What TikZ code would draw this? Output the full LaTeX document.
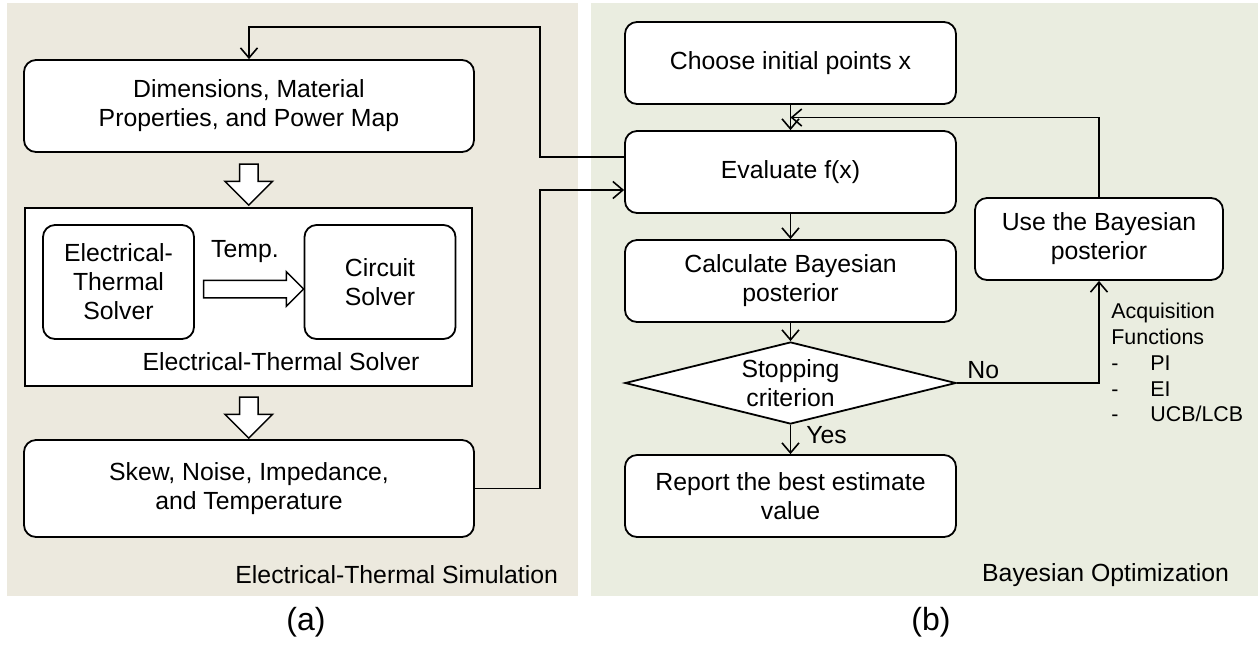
\documentclass[tikz,border=0pt]{standalone}
\usepackage{fontspec}
\setmainfont{Liberation Sans}
\usetikzlibrary{arrows.meta,shapes.geometric,shapes.arrows,calc}

\definecolor{simbg}{RGB}{236,233,222}
\definecolor{optbg}{RGB}{234,237,224}

\tikzset{
  txt/.style={font=\fontsize{12.4}{14.5}\selectfont},
  box/.style={draw, fill=white, rounded corners=6pt, line width=0.9pt, align=center, inner sep=0pt, txt},
  bigbox/.style={box, minimum width=225pt},
  flowbox/.style={box, minimum width=165.5pt, minimum height=41pt},
  decision/.style={draw, fill=white, diamond, aspect=4, line width=0.9pt, align=center, inner sep=0pt,
    minimum width=165.5pt, minimum height=41pt, txt},
  fatarrow/.style={draw, fill=white, single arrow, line width=0.75pt, inner sep=4.25pt,
    single arrow head extend=7.25pt, minimum height=20.5pt},
  arr/.style={-{Straight Barb[length=5pt,width=8.5pt]}, line width=0.8pt},
}

\begin{document}
\begin{tikzpicture}[x=0.5pt, y=-0.5pt]
    \useasboundingbox (0,0) rectangle (1258,645);
    % panels
    \fill[simbg] (7,3) rectangle (578,596);
    \fill[optbg] (591,3) rectangle (1258,596);

    % (a) electrical-thermal simulation
    \node[bigbox, minimum height=46pt] (dims) at (249,106) {Dimensions, Material\\Properties, and Power Map};
    \node[draw, fill=white, line width=0.9pt, minimum width=223.5pt, minimum height=89pt] (etsbox) at (248.5,297) {};
    \node[box, minimum width=75.5pt, minimum height=57pt] (ets) at (118.5,282) {Electrical-\\Thermal\\Solver};
    \node[box, minimum width=75.5pt, minimum height=57pt] (circ) at (380,282) {Circuit\\Solver};
    \node[txt] (temp) at (245,252) {Temp.};
    \node[txt] (etslabel) at (281,362) {Electrical-Thermal Solver};
    \node[bigbox, minimum height=48.5pt] (skew) at (249,488.5) {Skew, Noise, Impedance,\\and Temperature};
    \node[txt, anchor=east] (simlabel) at (565,575) {Electrical-Thermal Simulation};
    \node[font=\fontsize{16}{18}\selectfont] (cap-a) at (306,622) {(a)};

    \path (dims.south) -- (etsbox.north) node[midway, fatarrow, rotate=-90] (down1) {};
    \path (etsbox.south) -- (skew.north) node[midway, fatarrow, rotate=-90] (down2) {};
    \path ([yshift=-3.5pt]ets.east) -- ([yshift=-3.5pt]circ.west)
      node[midway, fatarrow, inner sep=4pt, single arrow head extend=4.25pt, minimum height=50pt] (right1) {};

    % (b) bayesian optimization
    \node[flowbox] (choose) at (790.5,63) {Choose initial points x};
    \node[flowbox] (eval) at (790.5,172) {Evaluate f(x)};
    \node[flowbox] (calc) at (790.5,281) {Calculate Bayesian\\posterior};
    \node[decision] (stop) at (790.5,383) {Stopping\\criterion};
    \node[flowbox] (report) at (790.5,496) {Report the best estimate\\value};
    \node[box, minimum width=124pt, minimum height=41pt] (use) at (1099,239) {Use the Bayesian\\posterior};
    \node[anchor=north west, align=left, inner sep=0pt, font=\fontsize{10.7}{12.85}\selectfont] (acq) at (1111,303)
      {Acquisition\\Functions\\\makebox[19.5pt][l]{-}PI\\\makebox[19.5pt][l]{-}EI\\\makebox[19.5pt][l]{-}UCB/LCB};
    \node[txt, anchor=east] (optlabel) at (1236,575) {Bayesian Optimization};
    \node[font=\fontsize{16}{18}\selectfont] (cap-b) at (931,622) {(b)};

    \coordinate (out1) at ($(eval.west)+(0,-15)$);
    \coordinate (in1) at ($(eval.west)+(0,18)$);
    \coordinate (back) at ($(choose.south)!0.5!(eval.north)$);

    \draw[arr] (choose) -- (eval);
    \draw[arr] (eval) -- (calc);
    \draw[arr] (calc) -- (stop);
    \draw[arr] (stop) -- (report);
    \node[txt, anchor=base west, inner sep=0pt] (yes) at (806,443) {Yes};
    \draw[arr] (stop.east) -| (use.south);
    \node[txt, anchor=base west, inner sep=0pt] (no) at (967,378) {No};
    \draw[arr] (use.north) |- (back);

    % loop between the two panels
    \draw[arr] (out1) -- (540,157) -- (540,27) -| (dims.north);
    \draw[arr] (skew.east) -| (540,190) -- (in1);
\end{tikzpicture}
\end{document}
